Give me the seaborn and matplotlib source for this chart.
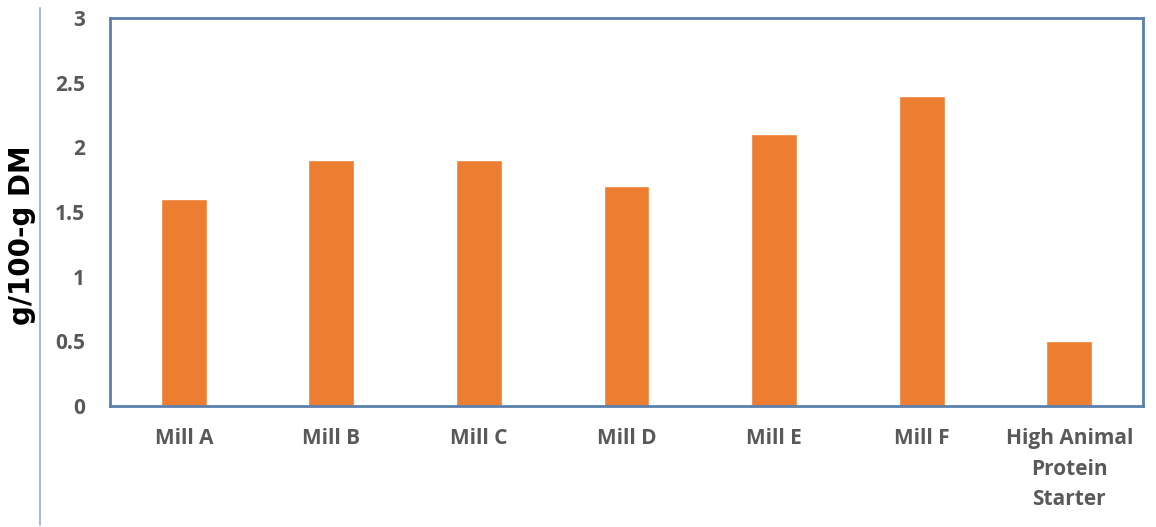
import matplotlib
matplotlib.use("Agg")
import matplotlib.pyplot as plt
import seaborn as sns
import pandas as pd
from matplotlib.lines import Line2D

categories = ["Mill A", "Mill B", "Mill C", "Mill D", "Mill E", "Mill F",
              "High Animal\nProtein\nStarter"]
values = [1.6, 1.9, 1.9, 1.7, 2.1, 2.4, 0.5]
y_ticks = [0, 0.5, 1, 1.5, 2, 2.5, 3]
y_tick_labels = ["0", "0.5", "1", "1.5", "2", "2.5", "3"]

df = pd.DataFrame({"source": categories, "value": values})

sns.set_theme(style="white")
plt.rcParams["font.family"] = ["Open Sans", "DejaVu Sans"]

fig = plt.figure(figsize=(11.56, 5.27), dpi=100)
ax = fig.add_axes([110 / 1156, 1 - 406 / 527, (1143 - 110) / 1156, (406 - 18) / 527])

sns.barplot(data=df, x="source", y="value", color="#ED7D31", width=0.31,
            saturation=1, ax=ax)

ax.set_ylim(0, 3)
ax.set_xlim(-0.5, len(categories) - 0.5)
ax.set_yticks(y_ticks)
ax.set_yticklabels(y_tick_labels)
ax.tick_params(axis="y", length=0, pad=18, labelsize=15, labelcolor="#595959")
ax.tick_params(axis="x", length=0, pad=16, labelsize=15, labelcolor="#595959")
for lbl in ax.get_yticklabels() + ax.get_xticklabels():
    lbl.set_fontweight("bold")
for lbl in ax.get_xticklabels():
    lbl.set_linespacing(1.6)
    lbl.set_verticalalignment("top")

for side in ["left", "right", "top", "bottom"]:
    ax.spines[side].set_visible(True)
    ax.spines[side].set_color("#5A7FAA")
    ax.spines[side].set_linewidth(2)

ax.set_xlabel("")
ax.set_ylabel("g/100-g DM", fontsize=20, fontweight="bold", color="black",
              family=["DejaVu Sans"], labelpad=0)
ax.yaxis.set_label_coords((36 - 110) / (1143 - 110), 0.44)

# thin vertical rule at the left edge of the figure
fig.add_artist(Line2D([40 / 1156, 40 / 1156], [1 - 525 / 527, 1 - 8 / 527],
                      transform=fig.transFigure, color="#A9BCD6", linewidth=1.5))

fig.savefig("out.png", dpi=100)
